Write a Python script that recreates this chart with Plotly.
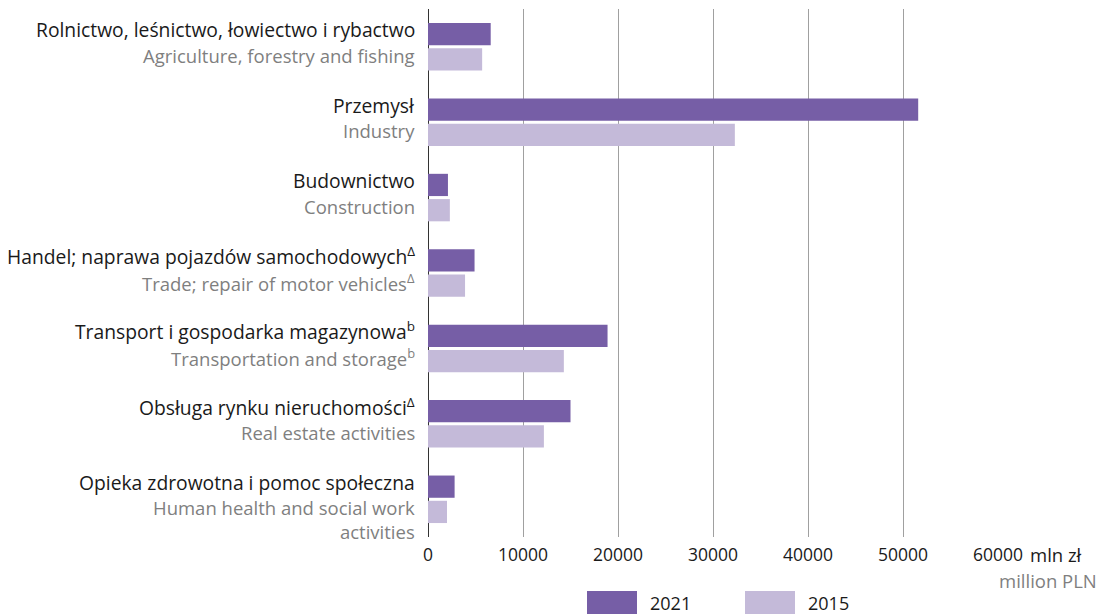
import plotly.graph_objects as go

categories_pl = [
    "Rolnictwo, leśnictwo, łowiectwo i rybactwo",
    "Przemysł",
    "Budownictwo",
    "Handel; naprawa pojazdów samochodowych<sup>Δ</sup>",
    "Transport i gospodarka magazynowa<sup>b</sup>",
    "Obsługa rynku nieruchomości<sup>Δ</sup>",
    "Opieka zdrowotna i pomoc społeczna",
]
categories_en = [
    "Agriculture, forestry and fishing",
    "Industry",
    "Construction",
    "Trade; repair of motor vehicles<sup>Δ</sup>",
    "Transportation and storage<sup>b</sup>",
    "Real estate activities",
    "Human health and social work<br>activities",
]
values_2021 = [6600, 51600, 2100, 4900, 18900, 15000, 2800]
values_2015 = [5700, 32300, 2300, 3900, 14300, 12200, 2000]
x_tick_vals = [0, 10000, 20000, 30000, 40000, 50000, 60000]
x_tick_text = ["0", "10000", "20000", "30000", "40000", "50000", "60000"]
series_names = ["2021", "2015"]

C2021 = "#765ea6"
C2015 = "#c4bad9"
FONT = "Open Sans"
DARK = "#1a1a1a"
GREY = "#7f7f7f"

ids = [f"c{i}" for i in range(len(categories_pl))]

fig = go.Figure()
fig.add_trace(go.Bar(y=ids, x=values_2021, orientation="h", name=series_names[0],
                     marker=dict(color=C2021, line=dict(width=0))))
fig.add_trace(go.Bar(y=ids, x=values_2015, orientation="h", name=series_names[1],
                     marker=dict(color=C2015, line=dict(width=0))))

ann = []
for cid, pl, en in zip(ids, categories_pl, categories_en):
    ann.append(dict(x=0, xref="paper", y=cid, yref="y", text=pl, showarrow=False,
                    xanchor="right", yanchor="middle", xshift=-11, yshift=17,
                    align="right", font=dict(family=FONT, size=19.3, color=DARK)))
    ann.append(dict(x=0, xref="paper", y=cid, yref="y", text=en, showarrow=False,
                    xanchor="right", yanchor="top", xshift=-11, yshift=6,
                    align="right", font=dict(family=FONT, size=18.5, color=GREY)))

ann.append(dict(x=1, xref="paper", y=0, yref="paper", text="mln zł", showarrow=False,
                xanchor="left", yanchor="top", xshift=30, yshift=-3,
                font=dict(family=FONT, size=18.5, color=DARK)))
ann.append(dict(x=1, xref="paper", y=0, yref="paper", text="million PLN", showarrow=False,
                xanchor="right", yanchor="top", xshift=101, yshift=-29,
                font=dict(family=FONT, size=18.5, color=GREY)))

shapes = []
legend_x = [587, 745]
for nm, col, lx in zip(series_names, [C2021, C2015], legend_x):
    x0 = (lx - 428) / (998 - 428)
    x1 = (lx + 50 - 428) / (998 - 428)
    shapes.append(dict(type="rect", xref="paper", yref="paper", x0=x0, x1=x1,
                       y0=(537 - 616) / 528, y1=(537 - 591) / 528,
                       fillcolor=col, line=dict(width=0)))
    ann.append(dict(x=x1, xref="paper", y=(537 - 603) / 528, yref="paper", text=nm,
                    showarrow=False, xanchor="left", yanchor="middle", xshift=11,
                    font=dict(family=FONT, size=18, color=DARK)))

fig.update_layout(
    width=1107, height=614,
    margin=dict(l=428, r=109, t=9, b=77),
    paper_bgcolor="white", plot_bgcolor="white",
    barmode="group", bargap=0.33, bargroupgap=0.12,
    showlegend=False,
    annotations=ann, shapes=shapes,
    font=dict(family=FONT, size=17, color=DARK),
    xaxis=dict(range=[0, 60000], tickvals=x_tick_vals, ticktext=x_tick_text,
               showgrid=True, gridcolor="#a0a0a0", gridwidth=1,
               zeroline=True, zerolinecolor="#333333", zerolinewidth=1,
               showline=False, ticks="", ticklabelstandoff=5,
               tickfont=dict(family=FONT, size=17.5, color=DARK)),
    yaxis=dict(autorange="reversed", showticklabels=False, showgrid=False,
               zeroline=False, showline=False, ticks=""),
)

fig.write_html("out.html", config={"displayModeBar": False},
               post_script="document.body.style.margin='0px';document.body.style.overflow='hidden';")
